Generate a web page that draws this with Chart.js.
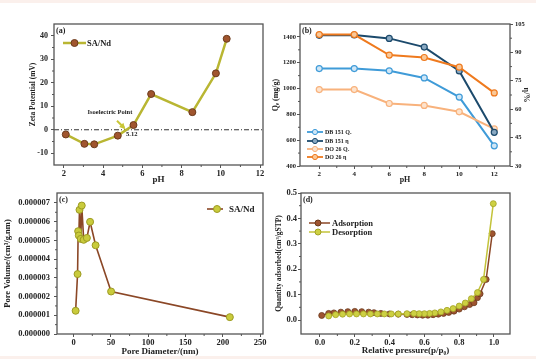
<!DOCTYPE html>
<html><head><meta charset="utf-8">
<script src="https://cdn.jsdelivr.net/npm/chart.js@4.4.0/dist/chart.umd.min.js"></script>
<style>
html,body{margin:0;padding:0;background:#fff;}
#wrap{position:relative;width:536px;height:359px;overflow:hidden;background:#fff;}
canvas{position:absolute;}
.band{position:absolute;left:0;width:536px;height:3px;background:#fbf0ec;}
</style></head><body>
<div id="wrap">
<div class="band" style="top:0"></div>
<div class="band" style="bottom:0"></div>
<canvas id="ca" width="268" height="190" style="left:0;top:0;width:268px;height:190px"></canvas>
<canvas id="cb" width="268" height="190" style="left:268px;top:0;width:268px;height:190px"></canvas>
<canvas id="cc" width="268" height="179" style="left:0;top:180px;width:268px;height:179px"></canvas>
<canvas id="cd" width="268" height="179" style="left:268px;top:180px;width:268px;height:179px"></canvas>
</div>
<script>
// ---------- DATA ----------
// (a) zeta potential
const zetaPH = [2.1, 3.05, 3.55, 4.75, 5.55, 6.45, 8.55, 9.75, 10.3];
const zetaMV = [-2, -6, -6.2, -2.5, 2, 15.2, 7.5, 24, 38.7];
const zetaXTicks = [2, 4, 6, 8, 10, 12];
const zetaYTicks = [-10, 0, 10, 20, 30, 40];

// (b) adsorption vs pH
const adsPH = [2, 4, 6, 8, 10, 12];
const db151Qe = [1155, 1155, 1137, 1082, 934, 556];
const db151Eta = [99.0, 99.2, 97.4, 92.8, 80.2, 47.8];
const do26Qe = [992, 992, 884, 869, 820, 687];
const do26Eta = [99.4, 99.4, 88.6, 87.3, 82.2, 68.6];
const adsXTicks = [2, 4, 6, 8, 10, 12];
const adsQeTicks = [400, 600, 800, 1000, 1200, 1400];
const adsEtaTicks = [30, 45, 60, 75, 90, 105];

// (c) pore size distribution
const poreD = [2.6, 5.2, 6.0, 6.9, 7.8, 9.5, 10.8, 13.4, 17.7, 22, 29.4, 50.2, 209.5];
const poreV = [1.24e-6, 3.2e-6, 5.49e-6, 5.26e-6, 6.63e-6, 5.08e-6, 6.86e-6, 5.03e-6, 5.13e-6, 5.99e-6, 4.74e-6, 2.27e-6, 0.9e-6];
const poreXTicks = [0, 50, 100, 150, 200, 250];
const poreYTicks = [0, 1e-6, 2e-6, 3e-6, 4e-6, 5e-6, 6e-6, 7e-6];

// (d) N2 isotherm
const adsorpP = [0.01, 0.05, 0.08, 0.12, 0.16, 0.2, 0.24, 0.28, 0.31, 0.35, 0.4, 0.45, 0.5, 0.53, 0.56, 0.59, 0.62, 0.65, 0.68, 0.71, 0.74, 0.77, 0.8, 0.83, 0.86, 0.885, 0.905, 0.92, 0.955, 0.99];
const adsorpQ = [0.018, 0.026, 0.028, 0.031, 0.033, 0.034, 0.033, 0.031, 0.029, 0.026, 0.024, 0.023, 0.022, 0.021, 0.02, 0.019, 0.019, 0.021, 0.023, 0.026, 0.03, 0.035, 0.043, 0.052, 0.061, 0.068, 0.088, 0.103, 0.16, 0.34];
const desorpP = [0.996, 0.94, 0.905, 0.87, 0.835, 0.8, 0.765, 0.73, 0.695, 0.66, 0.63, 0.6, 0.57, 0.54, 0.5, 0.45, 0.41, 0.37, 0.33, 0.29, 0.25, 0.21, 0.17, 0.13, 0.09, 0.05];
const desorpQ = [0.458, 0.16, 0.108, 0.084, 0.067, 0.055, 0.045, 0.038, 0.032, 0.028, 0.026, 0.025, 0.025, 0.026, 0.025, 0.024, 0.024, 0.024, 0.024, 0.024, 0.024, 0.024, 0.024, 0.023, 0.021, 0.016];
const isoXTicks = [0, 0.2, 0.4, 0.6, 0.8, 1.0];
const isoYTicks = [0, 0.1, 0.2, 0.3, 0.4, 0.5];

// ---------- HELPERS ----------
const SERIF = "'Liberation Serif','Times New Roman',serif";
const pts = (xs, ys) => xs.map((x, i) => ({x, y: ys[i]}));
const fixTicks = vals => (s => { s.ticks = vals.map(v => ({value: v})); });

const decor = {
  id: 'decor',
  beforeDatasetsDraw(chart, args, o) {
    const ctx = chart.ctx, ca = chart.chartArea;
    if (o.zeroLine) {
      const y = chart.scales.y.getPixelForValue(0);
      ctx.save();
      ctx.strokeStyle = '#333'; ctx.lineWidth = 1;
      ctx.setLineDash([5, 2, 1, 2]);
      ctx.beginPath(); ctx.moveTo(ca.left, y); ctx.lineTo(ca.right, y); ctx.stroke();
      ctx.restore();
    }
  },
  afterDatasetsDraw(chart, args, o) {
    const ctx = chart.ctx, ca = chart.chartArea;
    ctx.save();
    // frame
    ctx.strokeStyle = '#555'; ctx.lineWidth = 1.3;
    ctx.strokeRect(ca.left, ca.top, ca.right - ca.left, ca.bottom - ca.top);
    // minor ticks
    ctx.lineWidth = 1;
    (o.minor || []).forEach(id => {
      const s = chart.scales[id];
      const t = s.ticks;
      for (let i = 0; i < t.length - 1; i++) {
        const p = s.getPixelForValue((t[i].value + t[i + 1].value) / 2);
        ctx.beginPath();
        if (s.isHorizontal()) { ctx.moveTo(p, ca.bottom); ctx.lineTo(p, ca.bottom + 2); }
        else if (s.position === 'left') { ctx.moveTo(ca.left, p); ctx.lineTo(ca.left - 2, p); }
        else { ctx.moveTo(ca.right, p); ctx.lineTo(ca.right + 2, p); }
        ctx.stroke();
      }
    });
    // panel label
    if (o.label) {
      ctx.fillStyle = '#222'; ctx.font = 'bold 8px ' + SERIF;
      ctx.textBaseline = 'middle'; ctx.textAlign = 'left';
      ctx.fillText(o.label, ca.left + 2, ca.top + 7);
    }
    // legend
    (o.legend || []).forEach(it => {
      ctx.strokeStyle = it.line; ctx.lineWidth = it.lw;
      ctx.beginPath(); ctx.moveTo(it.x0, it.y); ctx.lineTo(it.x1, it.y); ctx.stroke();
      ctx.beginPath(); ctx.arc(it.mx, it.y, it.r, 0, Math.PI * 2);
      ctx.fillStyle = it.fill; ctx.fill();
      ctx.strokeStyle = it.stroke; ctx.lineWidth = 1; ctx.stroke();
      ctx.fillStyle = '#222'; ctx.font = it.font;
      ctx.textAlign = 'left'; ctx.textBaseline = 'middle';
      ctx.fillText(it.text, it.tx, it.y + 0.5);
    });
    // annotation
    if (o.iso) {
      const sx = chart.scales.x, sy = chart.scales.y;
      const a = o.iso;
      ctx.fillStyle = '#222'; ctx.font = 'bold 6.5px ' + SERIF;
      ctx.textAlign = 'center'; ctx.textBaseline = 'middle';
      ctx.fillText(a.text, sx.getPixelForValue(a.tx), sy.getPixelForValue(a.ty));
      const x0 = sx.getPixelForValue(a.ax0), y0 = sy.getPixelForValue(a.ay0);
      const x1 = sx.getPixelForValue(a.ax1), y1 = sy.getPixelForValue(a.ay1);
      ctx.strokeStyle = '#c9c636'; ctx.lineWidth = 2;
      ctx.beginPath(); ctx.moveTo(x0, y0); ctx.lineTo(x1, y1); ctx.stroke();
      const ang = Math.atan2(y1 - y0, x1 - x0);
      ctx.fillStyle = '#c9c636';
      ctx.beginPath();
      ctx.moveTo(x1 + 2 * Math.cos(ang), y1 + 2 * Math.sin(ang));
      ctx.lineTo(x1 - 4 * Math.cos(ang) + 3 * Math.sin(ang), y1 - 4 * Math.sin(ang) - 3 * Math.cos(ang));
      ctx.lineTo(x1 - 4 * Math.cos(ang) - 3 * Math.sin(ang), y1 - 4 * Math.sin(ang) + 3 * Math.cos(ang));
      ctx.closePath(); ctx.fill();
      ctx.fillStyle = '#222'; ctx.font = 'bold 6.5px ' + SERIF;
      ctx.textAlign = 'left';
      ctx.fillText(a.val, sx.getPixelForValue(a.vx), sy.getPixelForValue(a.vy));
    }
    ctx.restore();
  }
};

function axis(o) {
  const base = {
    type: 'linear',
    position: o.position,
    min: o.min, max: o.max,
    border: {display: false},
    grid: {display: true, drawOnChartArea: false, drawTicks: true, tickLength: 3, color: '#555', lineWidth: 1},
    ticks: {color: '#222', font: {family: SERIF, size: o.tsize, weight: 'bold'}, padding: o.tpad, maxRotation: 0, autoSkip: false,
      callback: o.fmt || (v => String(v))},
    title: {display: true, text: o.title, color: '#222', font: {family: SERIF, size: o.fsize, weight: 'bold'},
      padding: o.horiz ? {top: 0, bottom: o.toff} : {top: o.toff, bottom: 0}},
    afterBuildTicks: fixTicks(o.ticks),
    afterFit: s => { if (o.horiz) s.height = o.size; else s.width = o.size; }
  };
  return base;
}

Chart.defaults.font.family = SERIF;
const common = {responsive: false, animation: false, devicePixelRatio: 1,
  plugins: {legend: {display: false}, tooltip: {enabled: false}}};

// ---------- (a) ----------
new Chart(document.getElementById('ca'), {
  type: 'line',
  data: {datasets: [{
    data: pts(zetaPH, zetaMV), borderColor: '#b9b632', borderWidth: 2.5,
    pointRadius: 3.5, pointBackgroundColor: '#a0552e', pointBorderColor: '#6b3a1c', pointBorderWidth: 1,
    tension: 0
  }]},
  options: Object.assign({}, common, {
    layout: {padding: {left: 0, top: 24, right: 2, bottom: 0}},
    scales: {
      x: axis({position: 'bottom', horiz: true, min: 1.5, max: 12.15, ticks: zetaXTicks, tsize: 8.5, tpad: 1, title: 'pH', fsize: 9, toff: 4.6, size: 25}),
      y: axis({position: 'left', min: -15, max: 45, ticks: zetaYTicks, tsize: 8, tpad: 3, title: 'Zeta Potential (mV)', fsize: 7.5, toff: 28.5, size: 54})
    },
    plugins: Object.assign({}, common.plugins, {decor: {
      zeroLine: true, label: '(a)', minor: ['x', 'y'],
      legend: [{x0: 63, x1: 86, mx: 74.5, y: 43, r: 3.5, line: '#b9b632', lw: 2.5, fill: '#a0552e', stroke: '#6b3a1c', text: 'SA/Nd', tx: 87, font: 'bold 8.5px ' + SERIF}],
      iso: {text: 'Isoelectric Point', tx: 4.35, ty: 7.3, ax0: 4.71, ay0: 3.85, ax1: 5.07, ay1: 0.85, val: '5.12', vx: 5.17, vy: -1.8}
    }})
  }),
  plugins: [decor]
});

// ---------- (b) ----------
function ser(data, yAxisID, line, fill, order) {
  return {data, yAxisID, borderColor: line, borderWidth: 2, pointRadius: 3, pointBackgroundColor: fill,
    pointBorderColor: line, pointBorderWidth: 1.2, tension: 0, order};
}
new Chart(document.getElementById('cb'), {
  type: 'line',
  data: {datasets: [
    ser(pts(adsPH, db151Qe), 'y', '#3f9bd8', '#cfe6f6', 3),
    ser(pts(adsPH, db151Eta), 'y1', '#1c4a6c', '#8aa9c2', 1),
    ser(pts(adsPH, do26Qe), 'y', '#f8b27c', '#fde3cd', 2),
    ser(pts(adsPH, do26Eta), 'y1', '#ef7a1e', '#f9c898', 0)
  ]},
  options: Object.assign({}, common, {
    layout: {padding: {left: 0, top: 24, right: 0, bottom: 0}},
    scales: {
      x: axis({position: 'bottom', horiz: true, min: 0.9, max: 12.9, ticks: adsXTicks, tsize: 7, tpad: 1, title: 'pH', fsize: 8, toff: 5.2, size: 24}),
      y: axis({position: 'left', min: 400, max: 1500, ticks: adsQeTicks, tsize: 6.5, tpad: 1, title: 'Qₑ (mg/g)', fsize: 8, toff: 3.2, size: 32}),
      y1: axis({position: 'right', min: 30, max: 105, ticks: adsEtaTicks, tsize: 6.5, tpad: 2, title: 'η/%', fsize: 8, toff: 5.2, size: 26})
    },
    plugins: Object.assign({}, common.plugins, {decor: {
      label: '(b)', minor: ['x', 'y', 'y1'],
      legend: [
        {x0: 307, x1: 323, mx: 315, y: 132, r: 2.6, line: '#3f9bd8', lw: 1.8, fill: '#cfe6f6', stroke: '#3f9bd8', text: 'DB 151 Qₑ', tx: 325, font: 'bold 6px ' + SERIF},
        {x0: 307, x1: 323, mx: 315, y: 141, r: 2.6, line: '#1c4a6c', lw: 1.8, fill: '#8aa9c2', stroke: '#1c4a6c', text: 'DB 151 η', tx: 325, font: 'bold 6px ' + SERIF},
        {x0: 307, x1: 323, mx: 315, y: 149, r: 2.6, line: '#f8b27c', lw: 1.8, fill: '#fde3cd', stroke: '#f8b27c', text: 'DO 26 Qₑ', tx: 325, font: 'bold 6px ' + SERIF},
        {x0: 307, x1: 323, mx: 315, y: 157, r: 2.6, line: '#ef7a1e', lw: 1.8, fill: '#f9c898', stroke: '#ef7a1e', text: 'DO 26 η', tx: 325, font: 'bold 6px ' + SERIF}
      ].map(it => Object.assign(it, {x0: it.x0 - 268, x1: it.x1 - 268, mx: it.mx - 268, tx: it.tx - 268}))
    }})
  }),
  plugins: [decor]
});

// ---------- (c) ----------
new Chart(document.getElementById('cc'), {
  type: 'line',
  data: {datasets: [{
    data: pts(poreD, poreV), borderColor: '#8b4726', borderWidth: 1.6,
    pointRadius: 3.5, pointBackgroundColor: '#c9cb3c', pointBorderColor: '#9c9a22', pointBorderWidth: 1,
    tension: 0
  }]},
  options: Object.assign({}, common, {
    layout: {padding: {left: 0, top: 13, right: 1, bottom: 0}},
    scales: {
      x: axis({position: 'bottom', horiz: true, min: -22.4, max: 254, ticks: poreXTicks, tsize: 8.5, tpad: 1, title: 'Pore Diameter/(nm)', fsize: 9, toff: 1.6, size: 25}),
      y: axis({position: 'left', min: 0, max: 7.53e-6, ticks: poreYTicks, tsize: 8.5, tpad: 4, title: 'Pore Volume/(cm³/g.nm)', fsize: 8.5, toff: 3, size: 57, fmt: v => v.toFixed(6)})
    },
    plugins: Object.assign({}, common.plugins, {decor: {
      label: '(c)', minor: ['x', 'y'],
      legend: [{x0: 207, x1: 223, mx: 217, y: 29, r: 3.5, line: '#8b4726', lw: 1.6, fill: '#c9cb3c', stroke: '#9c9a22', text: 'SA/Nd', tx: 229, font: 'bold 9px ' + SERIF}]
    }})
  }),
  plugins: [decor]
});

// ---------- (d) ----------
new Chart(document.getElementById('cd'), {
  type: 'line',
  data: {datasets: [
    {data: pts(adsorpP, adsorpQ), borderColor: '#8b4726', borderWidth: 1.5, pointRadius: 3,
      pointBackgroundColor: '#9e5430', pointBorderColor: '#6b3a1c', pointBorderWidth: 0.8, tension: 0, order: 1},
    {data: pts(desorpP, desorpQ), borderColor: '#c3c33a', borderWidth: 1.5, pointRadius: 3,
      pointBackgroundColor: '#cdd042', pointBorderColor: '#a2a124', pointBorderWidth: 0.8, tension: 0, order: 0}
  ]},
  options: Object.assign({}, common, {
    layout: {padding: {left: 0, top: 13, right: 26, bottom: 0}},
    scales: {
      x: axis({position: 'bottom', horiz: true, min: -0.109, max: 1.092, ticks: isoXTicks, tsize: 8.5, tpad: 1, title: 'Relative pressure(p/p₀)', fsize: 9, toff: 2.6, size: 25, fmt: v => v.toFixed(1)}),
      y: axis({position: 'left', min: -0.055, max: 0.5, ticks: isoYTicks, tsize: 8.5, tpad: 1, title: 'Quantity adsorbed(cm³/gSTP)', fsize: 7.5, toff: 6.5, size: 33, fmt: v => v.toFixed(1)})
    },
    plugins: Object.assign({}, common.plugins, {decor: {
      label: '(d)', minor: ['x', 'y'],
      legend: [
        {x0: 41, x1: 62, mx: 50, y: 43, r: 3, line: '#8b4726', lw: 1.5, fill: '#9e5430', stroke: '#6b3a1c', text: 'Adsorption', tx: 64, font: 'bold 8.5px ' + SERIF},
        {x0: 41, x1: 62, mx: 50, y: 52, r: 3, line: '#c3c33a', lw: 1.5, fill: '#cdd042', stroke: '#a2a124', text: 'Desorption', tx: 64, font: 'bold 8.5px ' + SERIF}
      ]
    }})
  }),
  plugins: [decor]
});
</script>
</body></html>
